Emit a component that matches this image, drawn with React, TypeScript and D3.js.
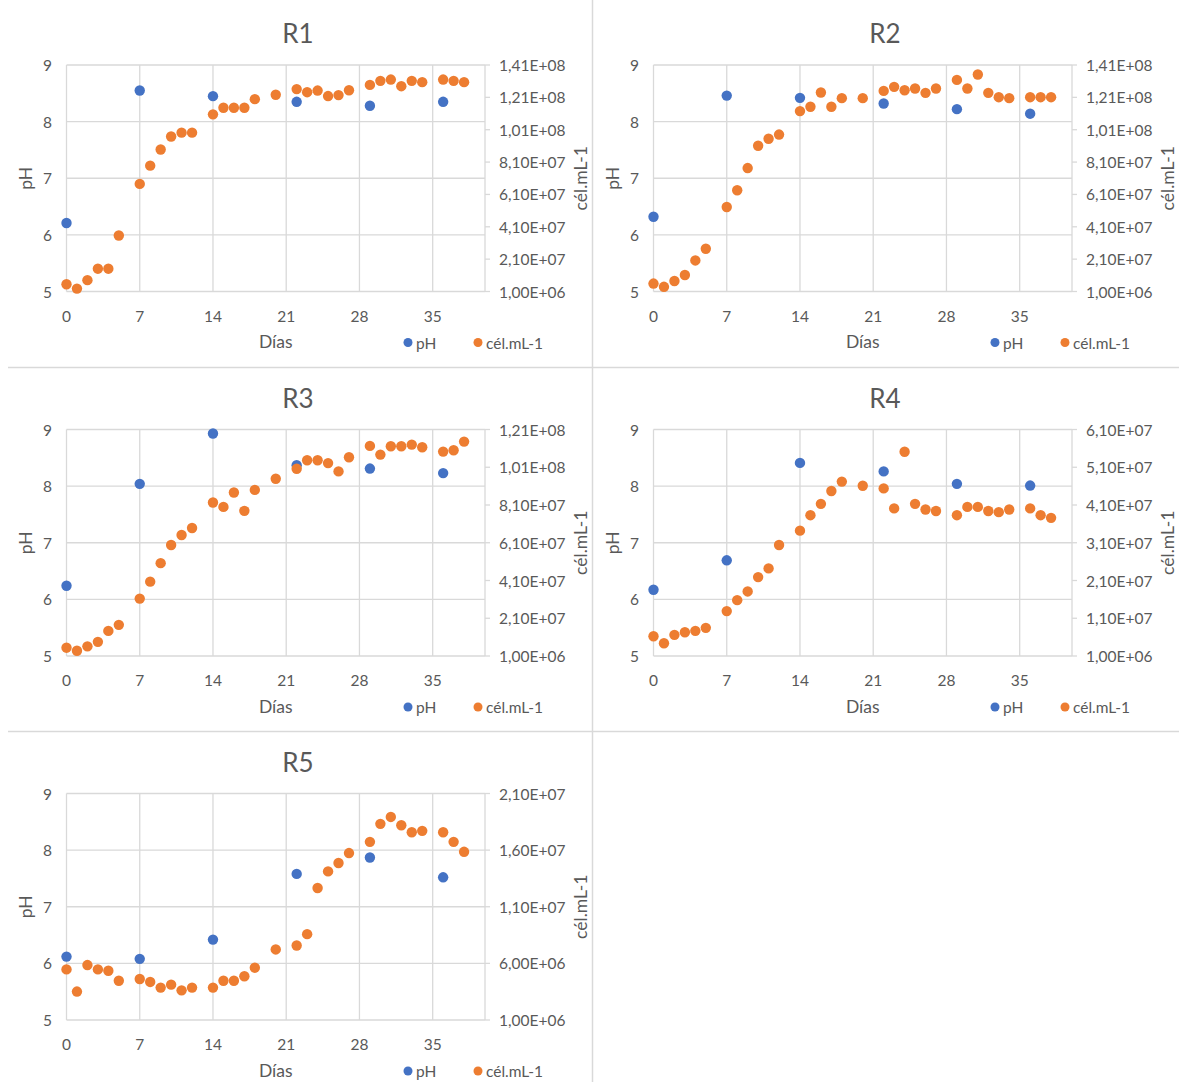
import React, { useEffect, useRef } from "react";
import * as d3 from "d3";

// --- Data ---
const days = [0, 1, 2, 3, 4, 5, 7, 8, 9, 10, 11, 12, 14, 15, 16, 17, 18, 20, 22, 23, 24, 25, 26, 27, 29, 30, 31, 32, 33, 34, 36, 37, 38];
const phDays = [0, 7, 14, 22, 29, 36];
const xTicks = [0, 7, 14, 21, 28, 35];
const phTicks = [5, 6, 7, 8, 9];

// cell counts in millions of cél/mL
const r1Cells = [5.5, 2.8, 8.0, 15.1, 15.1, 35.6, 67.5, 78.8, 88.8, 96.8, 99.2, 99.2, 110.5, 114.6, 114.6, 114.6, 119.9, 122.6, 126.1, 124.2, 125.2, 121.8, 122.4, 125.4, 128.7, 131.2, 132.0, 127.9, 131.2, 130.4, 132.0, 131.2, 130.4];
const r1Ph = [6.21, 8.55, 8.45, 8.35, 8.28, 8.35];

const r2Cells = [5.9, 3.9, 7.5, 11.2, 20.2, 27.4, 53.2, 63.6, 77.3, 91.1, 95.4, 98.0, 112.5, 115.2, 124.0, 115.2, 120.5, 120.5, 125.0, 127.5, 125.4, 126.5, 123.8, 126.5, 131.8, 126.5, 135.1, 123.8, 121.1, 120.5, 121.1, 121.1, 121.1];
const r2Ph = [6.32, 8.46, 8.42, 8.32, 8.22, 8.14];

const r3Cells = [5.4, 3.8, 6.1, 8.5, 14.3, 17.5, 31.4, 40.4, 50.2, 59.8, 65.1, 68.8, 82.3, 80.0, 87.6, 77.9, 89.0, 94.9, 100.2, 104.7, 104.7, 103.2, 98.8, 106.3, 112.3, 107.7, 112.1, 112.1, 113.0, 111.6, 109.3, 110.0, 114.6];
const r3Ph = [6.24, 8.04, 8.93, 8.37, 8.31, 8.23];

const r4Cells = [6.24, 4.37, 6.6, 7.3, 7.66, 8.46, 12.9, 15.8, 18.1, 21.9, 24.2, 30.4, 34.2, 38.3, 41.3, 44.7, 47.2, 46.1, 45.4, 40.1, 55.1, 41.3, 39.8, 39.4, 38.3, 40.5, 40.5, 39.4, 39.1, 39.8, 40.1, 38.3, 37.6];
const r4Ph = [6.17, 6.69, 8.41, 8.26, 8.04, 8.01];

const r5Cells = [5.47, 3.51, 5.85, 5.47, 5.35, 4.47, 4.62, 4.36, 3.86, 4.12, 3.62, 3.86, 3.86, 4.47, 4.47, 4.86, 5.62, 7.23, 7.58, 8.58, 12.66, 14.12, 14.86, 15.74, 16.73, 18.32, 18.93, 18.2, 17.58, 17.7, 17.58, 16.73, 15.85];
const r5Ph = [6.12, 6.08, 6.42, 7.58, 7.87, 7.52];

// right axis ticks (cél/mL)
const cellTicks140 = [1e6, 2.1e7, 4.1e7, 6.1e7, 8.1e7, 1.01e8, 1.21e8, 1.41e8];
const cellTicks120 = [1e6, 2.1e7, 4.1e7, 6.1e7, 8.1e7, 1.01e8, 1.21e8];
const cellTicks60 = [1e6, 1.1e7, 2.1e7, 3.1e7, 4.1e7, 5.1e7, 6.1e7];
const cellTicks20 = [1e6, 6e6, 1.1e7, 1.6e7, 2.1e7];

const panels = [
  { title: "R1", cells: r1Cells, ph: r1Ph, ticks: cellTicks140, col: 0, row: 0 },
  { title: "R2", cells: r2Cells, ph: r2Ph, ticks: cellTicks140, col: 1, row: 0 },
  { title: "R3", cells: r3Cells, ph: r3Ph, ticks: cellTicks120, col: 0, row: 1 },
  { title: "R4", cells: r4Cells, ph: r4Ph, ticks: cellTicks60, col: 1, row: 1 },
  { title: "R5", cells: r5Cells, ph: r5Ph, ticks: cellTicks20, col: 0, row: 2 },
];

const WIDTH = 1179;
const HEIGHT = 1082;
const FONT = "Lato, 'Open Sans', sans-serif";
const TEXT = "#595959";
const GRID = "#d9d9d9";
const BLUE = "#4472C4";
const ORANGE = "#ED7D31";

// 1.41e8 -> "1,41E+08"
const sciComma = (v: number) => {
  const [m, e] = v.toExponential(2).split("e");
  const exp = Math.abs(+e).toString().padStart(2, "0");
  return `${m.replace(".", ",")}E${+e < 0 ? "-" : "+"}${exp}`;
};

export default function App() {
  const svgRef = useRef<SVGSVGElement>(null);

  useEffect(() => {
    document.body.style.margin = "0";
    const svg = d3.select(svgRef.current);
    svg.selectAll("*").remove();

    svg.append("rect").attr("width", WIDTH).attr("height", HEIGHT).attr("fill", "#fff");

    // --- panel separators ---
    const sep = svg.append("g").attr("stroke", GRID).attr("stroke-width", 1.5);
    sep.append("line").attr("x1", 8).attr("x2", WIDTH).attr("y1", 367.5).attr("y2", 367.5);
    sep.append("line").attr("x1", 8).attr("x2", WIDTH).attr("y1", 731.5).attr("y2", 731.5);
    sep.append("line").attr("x1", 592.5).attr("x2", 592.5).attr("y1", 0).attr("y2", HEIGHT);

    const colX = [0, 587];
    const rowY = [0, 364.5, 728.5];
    const inner = { left: 66.5, right: 485, top: 65, bottom: 291.5 };

    panels.forEach(p => {
      const g = svg.append("g")
        .attr("transform", `translate(${colX[p.col]},${rowY[p.row]})`)
        .style("font-family", FONT);

      const x = d3.scaleLinear().domain([0, 40]).range([inner.left, inner.right]);
      const yPh = d3.scaleLinear().domain([5, 9]).range([inner.bottom, inner.top]);
      const yCell = d3.scaleLinear()
        .domain([p.ticks[0], p.ticks[p.ticks.length - 1]])
        .range([inner.bottom, inner.top]);

      // --- gridlines ---
      g.append("g").selectAll("line").data(phTicks).join("line")
        .attr("x1", inner.left).attr("x2", inner.right)
        .attr("y1", d => yPh(d)).attr("y2", d => yPh(d))
        .attr("stroke", GRID).attr("stroke-width", 1.3);
      g.append("g").selectAll("line").data(xTicks).join("line")
        .attr("x1", d => x(d)).attr("x2", d => x(d))
        .attr("y1", inner.top).attr("y2", inner.bottom)
        .attr("stroke", GRID).attr("stroke-width", 1.3);

      // --- right axis line + ticks ---
      g.append("line")
        .attr("x1", inner.right).attr("x2", inner.right)
        .attr("y1", inner.top).attr("y2", inner.bottom)
        .attr("stroke", GRID).attr("stroke-width", 1.3);
      g.append("g").selectAll("line").data(p.ticks).join("line")
        .attr("x1", inner.right).attr("x2", inner.right + 5)
        .attr("y1", d => yCell(d)).attr("y2", d => yCell(d))
        .attr("stroke", GRID).attr("stroke-width", 1.3);

      // --- tick labels ---
      g.append("g").selectAll("text").data(phTicks).join("text")
        .attr("x", 52).attr("y", d => yPh(d))
        .attr("text-anchor", "end").attr("dominant-baseline", "central")
        .attr("font-size", 15.5).attr("fill", TEXT)
        .text(d => d);
      g.append("g").selectAll("text").data(p.ticks).join("text")
        .attr("x", 499).attr("y", d => yCell(d))
        .attr("text-anchor", "start").attr("dominant-baseline", "central")
        .attr("font-size", 15.5).attr("fill", TEXT)
        .text(d => sciComma(d));
      g.append("g").selectAll("text").data(xTicks).join("text")
        .attr("x", d => x(d)).attr("y", inner.bottom + 24)
        .attr("text-anchor", "middle").attr("dominant-baseline", "central")
        .attr("font-size", 15.5).attr("fill", TEXT)
        .text(d => d);

      // --- titles ---
      g.append("text")
        .attr("x", 298).attr("y", 33)
        .attr("text-anchor", "middle").attr("dominant-baseline", "central")
        .attr("font-size", 26).attr("fill", TEXT)
        .text(p.title);
      g.append("text")
        .attr("x", (inner.left + inner.right) / 2).attr("y", inner.bottom + 50)
        .attr("text-anchor", "middle").attr("dominant-baseline", "central")
        .attr("font-size", 17.5).attr("fill", TEXT)
        .text("Días");
      const midY = (inner.top + inner.bottom) / 2;
      g.append("text")
        .attr("transform", `translate(25,${midY}) rotate(-90)`)
        .attr("text-anchor", "middle").attr("dominant-baseline", "central")
        .attr("font-size", 17.5).attr("fill", TEXT)
        .text("pH");
      g.append("text")
        .attr("transform", `translate(580,${midY}) rotate(-90)`)
        .attr("text-anchor", "middle").attr("dominant-baseline", "central")
        .attr("font-size", 17.5).attr("fill", TEXT)
        .text("cél.mL-1");

      // --- points ---
      g.append("g").selectAll("circle").data(p.ph).join("circle")
        .attr("cx", (d, i) => x(phDays[i]))
        .attr("cy", d => yPh(d))
        .attr("r", 5.2)
        .attr("fill", BLUE);
      g.append("g").selectAll("circle").data(p.cells).join("circle")
        .attr("cx", (d, i) => x(days[i]))
        .attr("cy", d => yCell(d * 1e6))
        .attr("r", 5.2)
        .attr("fill", ORANGE);

      // --- legend ---
      const ly = inner.bottom + 51;
      const legend = [
        { label: "pH", color: BLUE, x: 408 },
        { label: "cél.mL-1", color: ORANGE, x: 478 },
      ];
      legend.forEach(l => {
        g.append("circle").attr("cx", l.x).attr("cy", ly).attr("r", 4.5).attr("fill", l.color);
        g.append("text")
          .attr("x", l.x + 8).attr("y", ly)
          .attr("dominant-baseline", "central")
          .attr("font-size", 15.5).attr("fill", TEXT)
          .text(l.label);
      });
    });
  }, []);

  return <svg ref={svgRef} width={WIDTH} height={HEIGHT} style={{ display: "block" }} />;
}
